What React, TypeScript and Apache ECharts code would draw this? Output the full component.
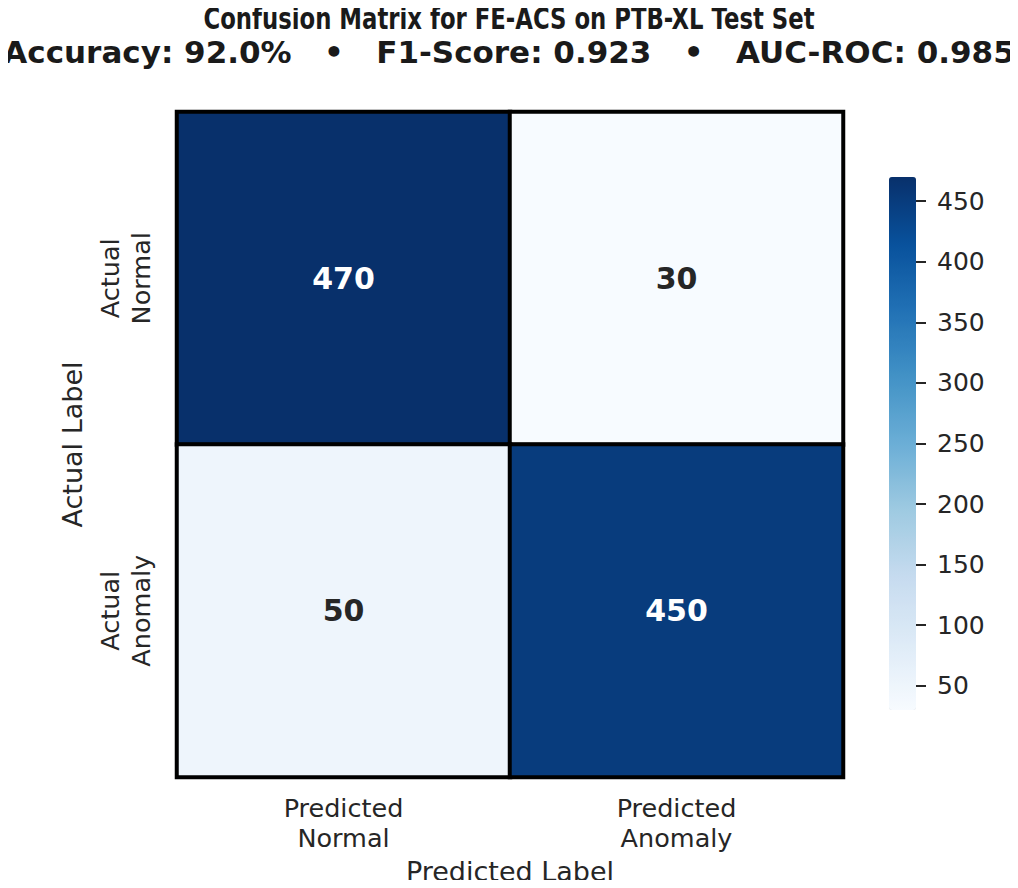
import React, { useEffect, useRef } from "react";
import * as echarts from "echarts";

const titleLine1 = "Confusion Matrix for FE-ACS on PTB-XL Test Set";
const titleLine2 = "Accuracy: 92.0%   •   F1-Score: 0.923   •   AUC-ROC: 0.985";
const predictedLabels = ["Predicted\nNormal", "Predicted\nAnomaly"];
const actualLabels = ["Actual\nNormal", "Actual\nAnomaly"];
// rows = actual, columns = predicted
const matrix = [
  [470, 30],
  [50, 450],
];
const colorbarTicks = [50, 100, 150, 200, 250, 300, 350, 400, 450];
const bluesPalette = [
  "#f7fbff", "#deebf7", "#c6dbef", "#9ecae1", "#6baed6",
  "#4292c6", "#2171b5", "#08519c", "#08306b",
];

const FONT = "DejaVu Sans";
const TEXT = "#262626";

export default function App() {
  const ref = useRef<HTMLDivElement>(null);
  useEffect(() => {
    if (!ref.current) return;
    const chart = echarts.init(ref.current, null, { renderer: "svg" });
    const flat = matrix.flat();
    const vmin = Math.min(...flat);
    const vmax = Math.max(...flat);
    const data: any[] = [];
    matrix.forEach((row, r) =>
      row.forEach((v, c) => {
        const t = (v - vmin) / (vmax - vmin);
        data.push({
          value: [c, r, v],
          label: { color: t > 0.5 ? "#ffffff" : TEXT },
        });
      })
    );
    chart.setOption({
      animation: false,
      backgroundColor: "#ffffff",
      graphic: [
        {
          type: "text",
          x: 509,
          y: 18,
          scaleX: 0.76,
          style: {
            text: titleLine1,
            fontFamily: FONT,
            fontWeight: "bold",
            fontSize: 30,
            fill: "#1a1a1a",
            align: "center",
            verticalAlign: "middle",
          },
        },
        {
          type: "text",
          x: 509,
          y: 52,
          style: {
            text: titleLine2,
            fontFamily: FONT,
            fontWeight: "bold",
            fontSize: 31,
            fill: "#1a1a1a",
            align: "center",
            verticalAlign: "middle",
          },
        },
      ],
      grid: [
        { left: 177, top: 112, width: 666, height: 665, outerBoundsMode: "none", containLabel: false },
        { left: 889, top: 177, width: 27, height: 533, outerBoundsMode: "none", containLabel: false },
      ],
      xAxis: [
        {
          type: "category",
          gridIndex: 0,
          data: predictedLabels,
          position: "bottom",
          axisLine: { show: false },
          axisTick: { show: false },
          splitLine: { show: false },
          axisLabel: {
            fontFamily: FONT,
            fontSize: 25.5,
            lineHeight: 30,
            color: TEXT,
            margin: 16,
          },
          name: "Predicted Label",
          nameLocation: "middle",
          nameGap: 80,
          nameTextStyle: { fontFamily: FONT, fontSize: 27, color: TEXT },
        },
        {
          type: "category",
          gridIndex: 1,
          data: [""],
          show: false,
        },
      ],
      yAxis: [
        {
          type: "category",
          gridIndex: 0,
          data: actualLabels,
          inverse: true,
          axisLine: { show: false },
          axisTick: { show: false },
          splitLine: { show: false },
          axisLabel: {
            fontFamily: FONT,
            fontSize: 25.5,
            lineHeight: 31,
            color: TEXT,
            rotate: 90,
            margin: 21,
            align: "center",
          },
          name: "Actual Label",
          nameLocation: "middle",
          nameRotate: 90,
          nameGap: 83,
          nameTextStyle: { fontFamily: FONT, fontSize: 27, color: TEXT },
        },
        {
          type: "value",
          gridIndex: 1,
          position: "right",
          min: vmin,
          max: vmax,
          axisLine: { show: false },
          splitLine: { show: false },
          axisTick: {
            show: true,
            inside: false,
            length: 10,
            lineStyle: { color: TEXT, width: 2 },
            customValues: colorbarTicks,
          },
          axisLabel: {
            fontFamily: FONT,
            fontSize: 25,
            color: TEXT,
            margin: 21,
            customValues: colorbarTicks,
          },
        },
      ],
      visualMap: {
        type: "continuous",
        min: vmin,
        max: vmax,
        seriesIndex: 0,
        calculable: false,
        realtime: false,
        left: 889,
        top: 177,
        padding: 0,
        itemWidth: 27,
        itemHeight: 533,
        text: ["", ""],
        showLabel: false,
        inRange: { color: bluesPalette },
      },
      series: [
        {
          type: "heatmap",
          xAxisIndex: 0,
          yAxisIndex: 0,
          data,
          itemStyle: { borderColor: "#000000", borderWidth: 4 },
          label: {
            show: true,
            fontFamily: FONT,
            fontWeight: "bold",
            fontSize: 30,
            formatter: (p: any) => String(p.value[2]),
          },
          emphasis: { disabled: true },
        },
      ],
    });
    return () => chart.dispose();
  }, []);
  return (
    <div
      ref={ref}
      style={{ width: 1018, height: 888, marginLeft: -8, marginTop: -8, marginBottom: -8 }}
    />
  );
}
